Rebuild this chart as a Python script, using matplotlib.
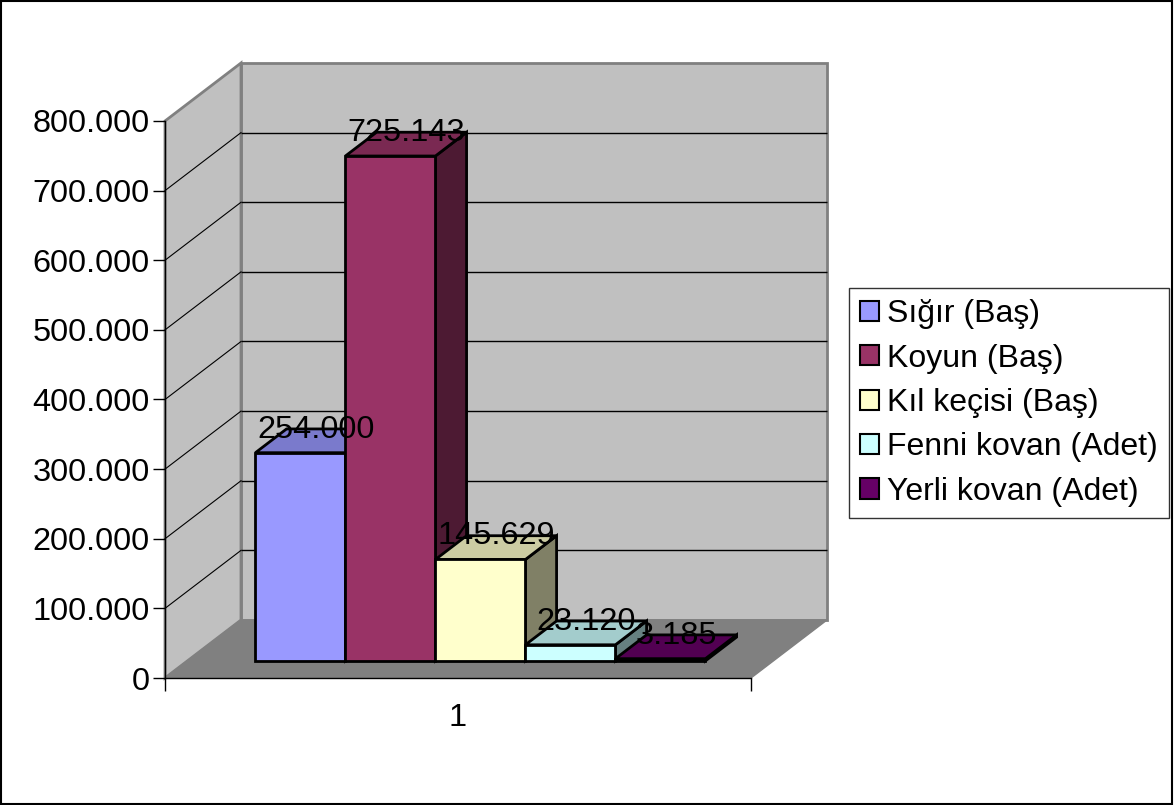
import matplotlib
matplotlib.use('Agg')
import matplotlib.pyplot as plt
from matplotlib.patches import Polygon, Patch, Rectangle
from matplotlib.ticker import FuncFormatter

plt.rcParams['font.family'] = ['Liberation Sans', 'DejaVu Sans']

# =========================
# Data
# =========================
series = ['Sığır (Baş)', 'Koyun (Baş)', 'Kıl keçisi (Baş)',
          'Fenni kovan (Adet)', 'Yerli kovan (Adet)']
label_values = [254000, 725143, 145629, 23120, 3185]
# drawn heights (first bar is drawn taller than its label)
bar_heights = [299000, 725143, 145629, 23120, 3185]
front_colors = ['#9999ff', '#993366', '#ffffcc', '#ccffff', '#660066']
category = ['1']
y_ticks = list(range(0, 800001, 100000))


def fmt(v, pos=None):
    return '{:,}'.format(int(v)).replace(',', '.')


def shade(hex_color, k):
    r, g, b = matplotlib.colors.to_rgb(hex_color)
    return (r * k, g * k, b * k)


# =========================
# Figure / axes
# =========================
W, H = 1174, 805
fig = plt.figure(figsize=(W / 100, H / 100), dpi=100)
fig.patch.set_facecolor('white')
ax = fig.add_axes([165 / W, 127 / H, 586 / W, 557 / H])
ax.set_xlim(-0.5, 0.5)
ax.set_ylim(0, 800000)
ax.patch.set_visible(False)

# oblique depth: one unit of depth moves this much in data units
KX = 76 / 586
KY = 58 / 557 * 800000


def proj(x, v, d):
    return (x + d * KX, v + d * KY)


def face(pts, fc, ec, lw, z):
    poly = Polygon([proj(*p) for p in pts], closed=True, facecolor=fc,
                   edgecolor=ec, linewidth=lw, zorder=z, clip_on=False,
                   joinstyle='miter')
    ax.add_patch(poly)


# walls and floor
x0, x1 = -0.5, 0.5
vmax = 800000
face([(x0, 0, 1), (x1, 0, 1), (x1, vmax, 1), (x0, vmax, 1)],
     '#c0c0c0', '#808080', 2, 0.5)
face([(x0, 0, 0), (x0, 0, 1), (x0, vmax, 1), (x0, vmax, 0)],
     '#c0c0c0', '#808080', 2, 0.5)
face([(x0, 0, 0), (x1, 0, 0), (x1, 0, 1), (x0, 0, 1)],
     '#808080', '#808080', 1, 0.6)

# gridlines (back wall + left wall)
for v in y_ticks[1:-1]:
    xa, ya = proj(x0, v, 1)
    xb, yb = proj(x1, v, 1)
    ax.plot([xa, xb], [ya, yb], color='black', lw=1, zorder=0.7,
            clip_on=False, solid_capstyle='butt')
    xf, yf = proj(x0, v, 0)
    ax.plot([xf, xa], [yf, ya], color='black', lw=0.8,
            zorder=0.7, clip_on=False)

# bars
n = len(series)
group_w = 0.768
bw = group_w / n
d0, d1 = 0.295, 0.705
for i in range(n):
    bx0 = -group_w / 2 + i * bw
    bx1 = bx0 + bw
    h = bar_heights[i]
    c = front_colors[i]
    z = 2 + i * 0.1
    face([(bx1, 0, d0), (bx1, 0, d1), (bx1, h, d1), (bx1, h, d0)],
         shade(c, 0.5), 'black', 2, z)
    face([(bx0, h, d0), (bx1, h, d0), (bx1, h, d1), (bx0, h, d1)],
         shade(c, 0.8), 'black', 2, z)
    face([(bx0, 0, d0), (bx1, 0, d0), (bx1, h, d0), (bx0, h, d0)],
         c, 'black', 2, z)

for i in range(n):
    bx = -group_w / 2 + (i + 0.5) * bw
    tx, ty = proj(bx, bar_heights[i], 0.5)
    ax.annotate(fmt(label_values[i]), (tx, ty), xytext=(0, 8),
                textcoords='offset points', ha='center', va='center',
                fontsize=23.4, color='black', zorder=10, annotation_clip=False)

# axes
for s in ['top', 'right']:
    ax.spines[s].set_visible(False)
for s in ['left', 'bottom']:
    ax.spines[s].set_color('black')
    ax.spines[s].set_linewidth(1)
    ax.spines[s].set_zorder(3)
ax.set_yticks(y_ticks)
ax.yaxis.set_major_formatter(FuncFormatter(fmt))
ax.tick_params(axis='y', direction='out', length=9, width=1, pad=2,
               labelsize=23.4, colors='black')
ax.set_xticks([0])
ax.set_xticklabels(category)
ax.set_xticks([-0.5, 0.5], minor=True)
ax.tick_params(axis='x', which='major', length=0, pad=18, labelsize=23.4)
ax.tick_params(axis='x', which='minor', direction='out', length=9, width=1)

# legend
handles = [Patch(facecolor=c, edgecolor='black', linewidth=1.5)
           for c in front_colors]
leg = fig.legend(handles, series, loc='upper left',
                 bbox_to_anchor=(849 / W, 1 - 288 / H),
                 fontsize=23, frameon=True, fancybox=False, shadow=False,
                 handlelength=0.6, handleheight=0.6, handletextpad=0.25,
                 labelspacing=0.45, borderpad=0.35, borderaxespad=0)
leg.get_frame().set_edgecolor('black')
leg.get_frame().set_linewidth(1)

# outer border
fig.add_artist(Rectangle((0.0005, 0.0008), 0.998, 0.998, transform=fig.transFigure,
                         fill=False, edgecolor='black', linewidth=1.5))

plt.savefig('out.png', dpi=100)
plt.close()
